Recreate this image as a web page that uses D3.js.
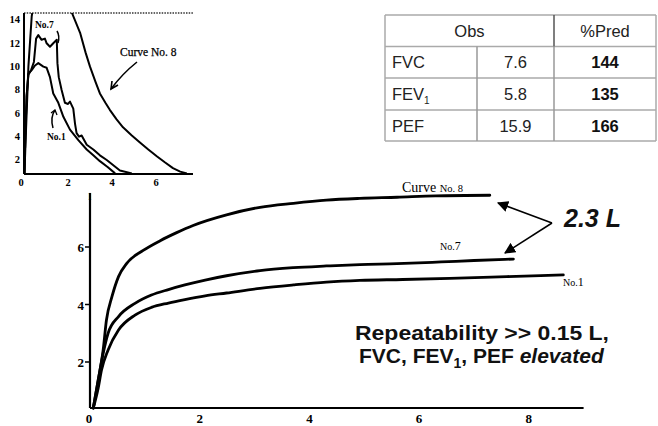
<!DOCTYPE html>
<html><head><meta charset="utf-8">
<script src="https://cdn.jsdelivr.net/npm/d3@7"></script>
<style>html,body{margin:0;padding:0;background:#fff;}svg{display:block;}</style>
</head><body>
<svg id="c" width="658" height="426"></svg>
<script>
// ---- Data ----
// Inset: flow (L/s) vs volume (L)
const insetCurve8 = [[0.02,0.8],[0.08,4],[0.2,10],[0.35,14.3],[0.45,15.5],[0.7,16],[1.2,16],[1.8,15.6],[2.18,14.6],[2.55,12.9],[2.8,11.2],[3.0,10.0],[3.25,8.7],[3.45,7.7],[3.7,6.9],[3.9,6.3],[4.2,5.5],[4.5,4.8],[4.9,4.1],[5.27,3.5],[5.65,2.9],[6.05,2.3],[6.4,1.8],[6.77,1.3],[7.1,1.0],[7.4,0.85]];
const insetCurve7 = [[0.02,0.8],[0.06,4],[0.12,7.5],[0.2,9.3],[0.32,9.7],[0.45,10.4],[0.55,12.4],[0.65,12.7],[0.8,12.3],[0.95,12.4],[1.03,12.0],[1.18,11.7],[1.33,12.0],[1.49,12.3],[1.52,10.3],[1.58,9.1],[1.71,8.0],[1.86,6.9],[2.0,6.8],[2.09,7.0],[2.24,6.4],[2.32,5.1],[2.39,4.3],[2.5,4.0],[2.62,4.1],[2.85,3.3],[3.15,2.9],[3.45,2.4],[3.76,2.0],[4.36,1.1],[4.9,0.85]];
const insetCurve1 = [[0.02,0.8],[0.06,4],[0.12,7.5],[0.2,9.4],[0.35,9.7],[0.5,10.1],[0.65,10.3],[0.88,10.0],[1.03,9.9],[1.18,9.1],[1.33,7.7],[1.56,6.9],[1.79,5.7],[2.09,4.6],[2.47,3.7],[2.85,2.9],[3.15,2.4],[3.45,1.9],[3.8,1.4],[4.14,0.85]];
const insetXTicks = [0,2,4,6];
const insetYTicks = [2,4,6,8,10,12,14];

// Main: volume (L) vs time (s)
const mainCurve8 = [[0.06,0.4],[0.15,1.37],[0.24,2.42],[0.3,3.46],[0.4,4.27],[0.52,4.97],[0.67,5.43],[0.97,5.88],[1.28,6.22],[1.58,6.5],[1.88,6.75],[2.49,7.12],[3.1,7.38],[3.71,7.52],[4.31,7.63],[4.92,7.69],[5.6,7.73],[6.3,7.78],[7.29,7.8]];
const mainCurve7 = [[0.06,0.4],[0.15,1.37],[0.24,2.3],[0.33,3.0],[0.52,3.58],[0.82,4.04],[1.12,4.33],[1.43,4.52],[1.73,4.68],[2.1,4.85],[2.49,5.0],[3.1,5.18],[3.71,5.28],[4.31,5.34],[4.92,5.39],[5.6,5.42],[6.4,5.48],[7.0,5.53],[7.72,5.58]];
const mainCurve1 = [[0.06,0.4],[0.15,1.1],[0.21,1.72],[0.33,2.42],[0.52,3.11],[0.82,3.63],[1.12,3.9],[1.43,4.05],[1.73,4.17],[2.1,4.3],[2.49,4.4],[3.1,4.56],[3.71,4.68],[4.31,4.78],[4.92,4.84],[5.7,4.87],[6.56,4.91],[7.6,4.97],[8.63,5.03]];
const mainXTicks = [0,2,4,6,8];
const mainYTicks = [2,4,6];

// Table
const tableHeader = ["Obs","%Pred"];
const tableRows = ["FVC","FEV","PEF"];
const tableObs = ["7.6","5.8","15.9"];
const tablePred = ["144","135","166"];

// ---- Drawing ----
const svg = d3.select("#c");
const serif = "'Liberation Serif','DejaVu Serif',serif";
const sans = "'Liberation Sans',Arial,sans-serif";

// ===== Inset chart =====
const xI = d3.scaleLinear().domain([0,7.5]).range([24,189]);
const yI = d3.scaleLinear().domain([0,15]).range([183.3,8.3]);
const insetBase = 0.8, insetTop = 14.6;
svg.append("clipPath").attr("id","clipI").append("rect")
  .attr("x",xI(0)).attr("y",yI(insetTop)).attr("width",xI(7.5)-xI(0)).attr("height",yI(insetBase)-yI(insetTop));
const gI = svg.append("g");
gI.append("line").attr("x1",xI(0)).attr("x2",193).attr("y1",yI(insetTop)).attr("y2",yI(insetTop))
  .attr("stroke","#333").attr("stroke-width",1.5).attr("stroke-dasharray","1.5,1.2");
gI.append("line").attr("x1",xI(0)).attr("x2",xI(0)).attr("y1",yI(insetTop)).attr("y2",yI(insetBase))
  .attr("stroke","#000").attr("stroke-width",2);
gI.append("line").attr("x1",xI(0)).attr("x2",193).attr("y1",yI(insetBase)).attr("y2",yI(insetBase))
  .attr("stroke","#000").attr("stroke-width",2);
gI.selectAll("text.iy").data(insetYTicks).join("text")
  .attr("x",xI(0)-4).attr("y",d=>yI(d)+3.5).attr("text-anchor","end")
  .attr("font-family",serif).attr("font-weight","bold").attr("font-size",10.5).text(d=>d);
gI.selectAll("text.ix").data(insetXTicks).join("text")
  .attr("x",d=>xI(d)-(d===0?3:0)).attr("y",yI(insetBase)+12).attr("text-anchor","middle")
  .attr("font-family",serif).attr("font-weight","bold").attr("font-size",10.5).text(d=>d);
gI.append("text").attr("x",90).attr("y",200).attr("text-anchor","middle")
  .attr("font-family",serif).attr("font-weight","bold").attr("font-size",10).text("l");
const lineI = d3.line().x(d=>xI(d[0])).y(d=>yI(d[1])).curve(d3.curveLinear);
const gIc = gI.append("g").attr("clip-path","url(#clipI)");
[insetCurve8,insetCurve7,insetCurve1].forEach(c=>{
  gIc.append("path").attr("d",lineI(c)).attr("fill","none").attr("stroke","#000")
    .attr("stroke-width",2).attr("stroke-linejoin","round");
});
gI.append("text").attr("x",120).attr("y",56).attr("font-family",serif).attr("font-size",11.5).attr("stroke","#000").attr("stroke-width",0.25).text("Curve No. 8");
gI.append("path").attr("d","M137,62 Q122,74 111,89").attr("fill","none").attr("stroke","#000").attr("stroke-width",1.6);
gI.append("path").attr("d","M118,85 L111,89 L112,81").attr("fill","none").attr("stroke","#000").attr("stroke-width",1.6);
gI.append("text").attr("x",35).attr("y",28).attr("font-family",serif).attr("font-weight","bold").attr("font-size",9.5).text("No.7");
gI.append("path").attr("d","M57,31 Q60,36 58,43").attr("fill","none").attr("stroke","#000").attr("stroke-width",1.5);
gI.append("text").attr("x",47).attr("y",140).attr("font-family",serif).attr("font-weight","bold").attr("font-size",9.5).text("No.1");
gI.append("path").attr("d","M53,128 Q50,117 55,110").attr("fill","none").attr("stroke","#000").attr("stroke-width",1.5);
gI.append("path").attr("d","M51,113 L55,110 L57,115").attr("fill","none").attr("stroke","#000").attr("stroke-width",1.3);

// ===== Table =====
const tx = [385,477,554,656], ty = [15,46.5,78,110,141];
const gT = svg.append("g");
ty.forEach(y=>gT.append("line").attr("x1",tx[0]).attr("x2",tx[3]).attr("y1",y).attr("y2",y)
  .attr("stroke","#aaa").attr("stroke-width",1.5));
gT.append("line").attr("x1",tx[0]).attr("x2",tx[0]).attr("y1",ty[0]).attr("y2",ty[4]).attr("stroke","#aaa").attr("stroke-width",1.5);
gT.append("line").attr("x1",tx[3]).attr("x2",tx[3]).attr("y1",ty[0]).attr("y2",ty[4]).attr("stroke","#aaa").attr("stroke-width",1.5);
gT.append("line").attr("x1",tx[1]).attr("x2",tx[1]).attr("y1",ty[1]).attr("y2",ty[4]).attr("stroke","#999").attr("stroke-width",1.5);
gT.append("line").attr("x1",tx[2]).attr("x2",tx[2]).attr("y1",ty[0]).attr("y2",ty[1]).attr("stroke","#555").attr("stroke-width",1.5);
gT.append("line").attr("x1",tx[2]).attr("x2",tx[2]).attr("y1",ty[1]).attr("y2",ty[4]).attr("stroke","#999").attr("stroke-width",1.5);
gT.append("text").attr("x",(tx[0]+tx[2])/2).attr("y",(ty[0]+ty[1])/2+6).attr("text-anchor","middle")
  .attr("font-family",sans).attr("font-size",16.5).attr("fill","#222").text(tableHeader[0]);
gT.append("text").attr("x",(tx[2]+tx[3])/2).attr("y",(ty[0]+ty[1])/2+6).attr("text-anchor","middle")
  .attr("font-family",sans).attr("font-size",16.5).attr("fill","#222").text(tableHeader[1]);
tableRows.forEach((r,i)=>{
  const yc = (ty[i+1]+ty[i+2])/2+6;
  const t = gT.append("text").attr("x",tx[0]+7).attr("y",yc).attr("font-family",sans).attr("font-size",16.5).attr("fill","#222").text(r);
  if(r==="FEV") t.append("tspan").attr("font-size",10).attr("dy",4).text("1");
  gT.append("text").attr("x",(tx[1]+tx[2])/2).attr("y",yc).attr("text-anchor","middle")
    .attr("font-family",sans).attr("font-size",16.5).attr("fill","#222").text(tableObs[i]);
  gT.append("text").attr("x",(tx[2]+tx[3])/2).attr("y",yc).attr("text-anchor","middle")
    .attr("font-family",sans).attr("font-weight","bold").attr("font-size",16.5).attr("fill","#111").text(tablePred[i]);
});

// ===== Main chart =====
const xM = d3.scaleLinear().domain([0,9]).range([90,583.6]);
const yM = d3.scaleLinear().domain([0,8]).range([419.5,189.5]);
const mainBase = 0.4, mainTop = 7.88, axX = 90;
const gM = svg.append("g");
gM.append("line").attr("x1",axX).attr("x2",axX).attr("y1",yM(mainTop)).attr("y2",yM(mainBase))
  .attr("stroke","#000").attr("stroke-width",2.2);
gM.append("line").attr("x1",axX).attr("x2",xM(9)).attr("y1",yM(mainBase)).attr("y2",yM(mainBase))
  .attr("stroke","#000").attr("stroke-width",2.2);
gM.selectAll("line.yt").data(mainYTicks).join("line")
  .attr("x1",axX-5).attr("x2",axX).attr("y1",d=>yM(d)).attr("y2",d=>yM(d)).attr("stroke","#000").attr("stroke-width",1.5);
gM.selectAll("text.yl").data(mainYTicks).join("text")
  .attr("x",axX-6).attr("y",d=>yM(d)+5).attr("text-anchor","end")
  .attr("font-family",serif).attr("font-weight","bold").attr("font-size",13).text(d=>d);
gM.selectAll("text.xl").data(mainXTicks).join("text")
  .attr("x",d=>xM(d)-(d===0?1:0)).attr("y",yM(mainBase)+15).attr("text-anchor","middle")
  .attr("font-family",serif).attr("font-weight","bold").attr("font-size",13).text(d=>d);
const lineM = d3.line().x(d=>xM(d[0])).y(d=>yM(d[1])).curve(d3.curveMonotoneX);
[mainCurve8,mainCurve7,mainCurve1].forEach(c=>{
  gM.append("path").attr("d",lineM(c)).attr("fill","none").attr("stroke","#000")
    .attr("stroke-width",2.8).attr("stroke-linejoin","round").attr("stroke-linecap","round");
});
const l8 = gM.append("text").attr("x",402).attr("y",192).attr("font-family",serif).attr("font-size",14).text("Curve ");
l8.append("tspan").attr("font-size",10.5).text("No. 8");
const l7 = gM.append("text").attr("x",440).attr("y",250).attr("font-family",serif).attr("font-size",10).text("No.");
l7.append("tspan").attr("font-size",12).text("7");
const l1 = gM.append("text").attr("x",563).attr("y",286).attr("font-family",serif).attr("font-size",10).text("No.");
l1.append("tspan").attr("font-size",12).text("1");
const defs = svg.append("defs");
defs.append("marker").attr("id","ah").attr("viewBox","0 0 10 10").attr("refX",9).attr("refY",5)
  .attr("markerWidth",7).attr("markerHeight",7).attr("orient","auto-start-reverse")
  .append("path").attr("d","M0,0 L10,5 L0,10 z").attr("fill","#000");
gM.append("line").attr("x1",552).attr("y1",223).attr("x2",498).attr("y2",203)
  .attr("stroke","#000").attr("stroke-width",1.6).attr("marker-end","url(#ah)");
gM.append("line").attr("x1",552).attr("y1",223).attr("x2",505).attr("y2",253)
  .attr("stroke","#000").attr("stroke-width",1.6).attr("marker-end","url(#ah)");
gM.append("text").attr("x",564).attr("y",227).attr("font-family",sans).attr("font-weight","bold")
  .attr("font-style","italic").attr("font-size",25).attr("fill","#111").text("2.3 L");
gM.append("text").attr("x",355).attr("y",340).attr("font-family",sans).attr("font-weight","bold")
  .attr("font-size",21).attr("fill","#111").attr("textLength",254).attr("lengthAdjust","spacingAndGlyphs")
  .text("Repeatability >> 0.15 L,");
const a2 = gM.append("text").attr("x",359).attr("y",363).attr("font-family",sans).attr("font-weight","bold")
  .attr("font-size",21).attr("fill","#111");
a2.append("tspan").text("FVC, FEV");
a2.append("tspan").attr("font-size",14).attr("dy",5).text("1");
a2.append("tspan").attr("dy",-5).text(", PEF ");
a2.append("tspan").attr("font-style","italic").text("elevated");
</script>
</body></html>
